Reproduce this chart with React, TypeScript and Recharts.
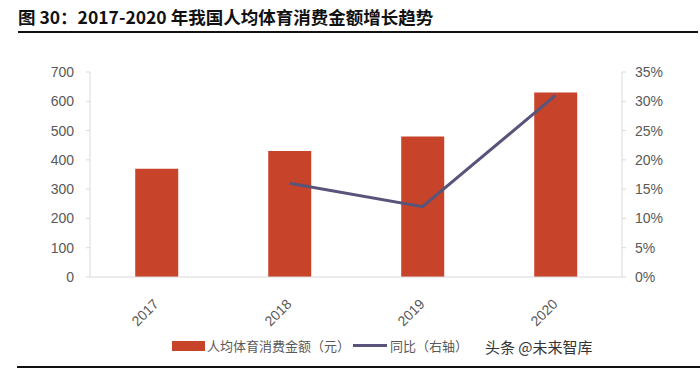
import React from 'react';
import { ComposedChart, Bar, Line, XAxis, YAxis } from 'recharts';

const years = ['2017', '2018', '2019', '2020'];
const spending = [370, 430, 480, 630];
const yoy = [null, 16, 12, 31];
const leftTicks = [0, 100, 200, 300, 400, 500, 600, 700];
const rightTicks = [0, 5, 10, 15, 20, 25, 30, 35];

const data = years.map((year, i) => ({ year, spending: spending[i], yoy: yoy[i] }));

const BAR = '#C7432A';
const LINE = '#58547A';
const AXIS = '#D9D9D9';
const TEXT = '#595959';
const FONT = '"Liberation Sans", Arial, sans-serif';
const CJK = '"Noto Sans CJK SC", sans-serif';

const YearTick = (props: any) => {
    const { x, y, payload } = props;
    return (
        <text
            x={x + 3}
            y={y + 20}
            textAnchor="end"
            fill={TEXT}
            fontSize={14}
            fontFamily={FONT}
            transform={`rotate(-45, ${x + 3}, ${y + 20})`}
        >
            {payload.value}
        </text>
    );
};

export default function App() {
    return (
        <div style={{ position: 'absolute', left: 0, top: 0, width: 700, height: 369, background: '#fff', overflow: 'hidden' }}>
            <div
                style={{
                    position: 'absolute', left: 18, top: 6, fontFamily: CJK, fontWeight: 700,
                    fontSize: 17.5, color: '#111', whiteSpace: 'nowrap', lineHeight: '22px',
                }}
            >
                图 30：2017-2020 年我国人均体育消费金额增长趋势
            </div>
            <div style={{ position: 'absolute', left: 18, top: 31, width: 680, height: 2, background: '#111' }} />

            <ComposedChart
                width={700}
                height={369}
                data={data}
                margin={{ top: 72, right: 18, bottom: 42, left: 30 }}
                barCategoryGap="34%"
            >
                <XAxis
                    xAxisId="grid"
                    type="number"
                    domain={[0, 4]}
                    ticks={[0, 1, 2, 3, 4]}
                    allowDataOverflow
                    height={0}
                    tick={false}
                    axisLine={false}
                    tickLine={{ stroke: AXIS }}
                    tickSize={4}
                />
                <XAxis
                    dataKey="year"
                    height={50}
                    axisLine={{ stroke: AXIS }}
                    tickLine={false}
                    tick={<YearTick />}
                    interval={0}
                />
                <YAxis
                    yAxisId="left"
                    domain={[0, 700]}
                    ticks={leftTicks}
                    width={60}
                    axisLine={{ stroke: AXIS }}
                    tickLine={{ stroke: AXIS }}
                    tickSize={4}
                    tickMargin={12}
                    tick={{ fill: TEXT, fontSize: 14, fontFamily: FONT }}
                />
                <YAxis
                    yAxisId="right"
                    orientation="right"
                    domain={[0, 35]}
                    ticks={rightTicks}
                    width={60}
                    axisLine={{ stroke: AXIS }}
                    tickLine={{ stroke: AXIS }}
                    tickSize={4}
                    tickMargin={9}
                    tickFormatter={(v: number) => `${v}%`}
                    tick={{ fill: TEXT, fontSize: 14, fontFamily: FONT, textAnchor: 'start' }}
                />
                <Bar yAxisId="left" dataKey="spending" fill={BAR} isAnimationActive={false} />
                <Line
                    yAxisId="right"
                    dataKey="yoy"
                    stroke={LINE}
                    strokeWidth={3}
                    dot={false}
                    activeDot={false}
                    connectNulls={false}
                    isAnimationActive={false}
                />
            </ComposedChart>

            <div style={{ position: 'absolute', left: 172, top: 341, width: 33, height: 10, background: BAR }} />
            <div
                style={{
                    position: 'absolute', left: 207, top: 337, fontFamily: CJK, fontSize: 13,
                    color: TEXT, whiteSpace: 'nowrap', lineHeight: '18px',
                }}
            >
                人均体育消费金额（元）
            </div>
            <div style={{ position: 'absolute', left: 353, top: 344, width: 34, height: 3, background: LINE }} />
            <div
                style={{
                    position: 'absolute', left: 390, top: 337, fontFamily: CJK, fontSize: 13,
                    color: TEXT, whiteSpace: 'nowrap', lineHeight: '18px',
                }}
            >
                同比（右轴）
            </div>
            <div
                style={{
                    position: 'absolute', left: 485, top: 337, fontFamily: CJK, fontSize: 15,
                    color: '#333', whiteSpace: 'nowrap', lineHeight: '20px',
                }}
            >
                头条 @未来智库
            </div>
            <div style={{ position: 'absolute', left: 17, top: 366, width: 683, height: 2, background: '#111' }} />
        </div>
    );
}
